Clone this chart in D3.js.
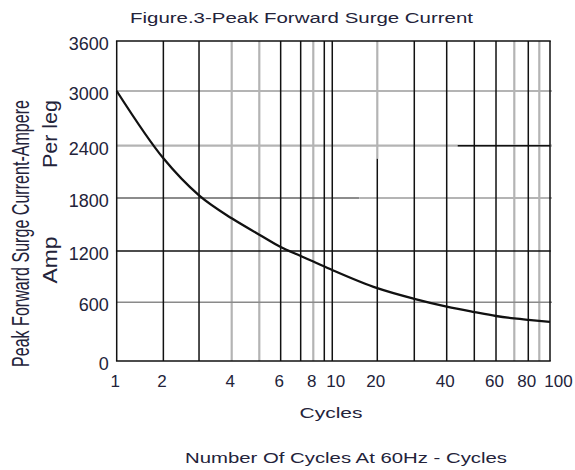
<!DOCTYPE html>
<html>
<head>
<meta charset="utf-8">
<script src="https://cdn.jsdelivr.net/npm/d3@7"></script>
<style>
  body { margin: 0; background: #fff; }
  text { font-family: "Liberation Sans", Arial, sans-serif; fill: #23233a; }
</style>
</head>
<body>
<div id="chart"></div>
<script>
// surge curve
var cycles = [1, 2, 3, 4, 5, 6, 7, 8, 10, 20, 30, 40, 50, 60, 70, 80, 100];
var surgeAmps = [3000, 2255, 1830, 1570, 1385, 1245, 1142, 1077, 978, 765, 640, 555, 500, 460, 435, 420, 400];

var xGridValues = [1, 2, 3, 4, 5, 6, 7, 8, 9, 10, 20, 30, 40, 50, 60, 70, 80, 90, 100];
var xTickValues = [1, 2, 4, 6, 8, 10, 20, 40, 60, 80, 100];
var yTickValues = [0, 600, 1200, 1800, 2400, 3000, 3600];

var grayX = [4, 5, 8, 70, 90];
var grayY = [3000, 600];

// the graph paper is not a true log scale, so the grid is placed as printed
var plotLeft = 116.7, plotRight = 550, plotTop = 41, plotBottom = 361;
var xGridFrac = [0, .1077, .19, .2654, .3291, .3784, .4246, .4537, .4791, .4975,
                 .6014, .6868, .7616, .8253, .8754, .9176, .9499, .9753, 1];
var yGridPos = [361, 302.3, 251, 198, 145.7, 91, 41];

var svg = d3.select("#chart").append("svg")
	.attr("width", 575)
	.attr("height", 470);

var x = d3.scaleLinear()
	.domain(xGridValues)
	.range(xGridFrac.map(function(f){ return plotLeft + f * (plotRight - plotLeft); }));
var y = d3.scaleLinear()
	.domain(yTickValues)
	.range(yGridPos);

var grid = svg.append("g").attr("class", "grid");

// light lines first
grid.selectAll(".vgray")
	.data(grayX)
	.enter().append("line")
	.attr("x1", function(d){ return x(d); })
	.attr("x2", function(d){ return x(d); })
	.attr("y1", plotTop).attr("y2", plotBottom)
	.attr("stroke", "#b4b4b4").attr("stroke-width", 2.2);
grid.append("line")
	.attr("x1", x(20)).attr("x2", x(20))
	.attr("y1", plotTop).attr("y2", y(2250))
	.attr("stroke", "#b4b4b4").attr("stroke-width", 2.2);

grid.selectAll(".hgray")
	.data(grayY)
	.enter().append("line")
	.attr("x1", plotLeft).attr("x2", plotRight + 2)
	.attr("y1", function(d){ return y(d); })
	.attr("y2", function(d){ return y(d); })
	.attr("stroke", function(d){ return d == 600 ? "#8a8a8a" : "#b4b4b4"; })
	.attr("stroke-width", function(d){ return d == 600 ? 1.6 : 2.2; });
grid.append("line")
	.attr("x1", plotLeft).attr("x2", plotRight + 2)
	.attr("y1", y(2400)).attr("y2", y(2400))
	.attr("stroke", "#b4b4b4").attr("stroke-width", 2.2);
grid.append("line")
	.attr("x1", x(44)).attr("x2", plotRight)
	.attr("y1", y(2400)).attr("y2", y(2400))
	.attr("stroke", "#111").attr("stroke-width", 1.4);
grid.append("line")
	.attr("x1", plotLeft).attr("x2", x(16))
	.attr("y1", y(1800)).attr("y2", y(1800))
	.attr("stroke", "#666").attr("stroke-width", 1.4);
grid.append("line")
	.attr("x1", x(16)).attr("x2", plotRight + 2)
	.attr("y1", y(1800)).attr("y2", y(1800))
	.attr("stroke", "#b4b4b4").attr("stroke-width", 2.2);

// dark lines
var blackX = xGridValues.filter(function(d){ return grayX.indexOf(d) < 0 && d != 20; });
grid.selectAll(".vblack")
	.data(blackX)
	.enter().append("line")
	.attr("x1", function(d){ return x(d); })
	.attr("x2", function(d){ return x(d); })
	.attr("y1", plotTop).attr("y2", plotBottom)
	.attr("stroke", "#111").attr("stroke-width", 1.5);
grid.append("line")
	.attr("x1", x(20)).attr("x2", x(20))
	.attr("y1", y(2250)).attr("y2", plotBottom)
	.attr("stroke", "#111").attr("stroke-width", 1.5);
grid.selectAll(".hblack")
	.data([0, 1200, 3600])
	.enter().append("line")
	.attr("x1", plotLeft - 0.75).attr("x2", plotRight + 0.75)
	.attr("y1", function(d){ return y(d); })
	.attr("y2", function(d){ return y(d); })
	.attr("stroke", "#111").attr("stroke-width", 1.5);

// the curve
var line = d3.line()
	.x(function(d){ return x(d[0]); })
	.y(function(d){ return y(d[1]); })
	.curve(d3.curveMonotoneX);
svg.append("path")
	.datum(d3.zip(cycles, surgeAmps))
	.attr("d", line)
	.attr("fill", "none")
	.attr("stroke", "#111")
	.attr("stroke-width", 2.3);

// axes, labels only
var yAxis = svg.append("g")
	.attr("transform", "translate(" + plotLeft + ",0)")
	.call(d3.axisLeft(y).tickValues(yTickValues).tickSize(0).tickPadding(8).tickFormat(d3.format("d")));
yAxis.select(".domain").remove();
yAxis.selectAll("text")
	.attr("dy", "0.47em")
	.style("font-size", "18px")
	.style("font-family", "'Liberation Sans', Arial, sans-serif")
	.attr("fill", "#23233a");

var xNudge = {10: 3, 100: 8};
var xAxis = svg.append("g")
	.attr("transform", "translate(0," + plotBottom + ")")
	.call(d3.axisBottom(x).tickValues(xTickValues).tickSize(0).tickFormat(d3.format("d")));
xAxis.select(".domain").remove();
xAxis.selectAll("text")
	.attr("y", 26)
	.attr("dy", 0)
	.attr("dx", function(d){ return (xNudge[d] || -2); })
	.style("font-size", "17px")
	.style("font-family", "'Liberation Sans', Arial, sans-serif")
	.attr("fill", "#23233a");

svg.append("text")
	.attr("x", 301.5).attr("y", 23)
	.attr("text-anchor", "middle")
	.attr("textLength", 343).attr("lengthAdjust", "spacingAndGlyphs")
	.style("font-size", "15.5px")
	.text("Figure.3-Peak Forward Surge Current");

svg.append("text")
	.attr("x", 331).attr("y", 418)
	.attr("text-anchor", "middle")
	.attr("textLength", 63).attr("lengthAdjust", "spacingAndGlyphs")
	.style("font-size", "15px")
	.text("Cycles");

svg.append("text")
	.attr("x", 346).attr("y", 462.5)
	.attr("text-anchor", "middle")
	.attr("textLength", 322).attr("lengthAdjust", "spacingAndGlyphs")
	.style("font-size", "14.5px")
	.text("Number Of Cycles At 60Hz - Cycles");

// rotated titles are squeezed along the baseline like the scan
svg.append("text")
	.attr("transform", "translate(29,233.5) rotate(-90)")
	.attr("text-anchor", "middle")
	.attr("textLength", 267).attr("lengthAdjust", "spacingAndGlyphs")
	.style("font-size", "23px")
	.text("Peak Forward Surge Current-Ampere");
svg.append("text")
	.attr("transform", "translate(57,134) rotate(-90)")
	.attr("text-anchor", "middle")
	.attr("textLength", 68).attr("lengthAdjust", "spacingAndGlyphs")
	.style("font-size", "21px")
	.text("Per leg");
svg.append("text")
	.attr("transform", "translate(57,260) rotate(-90)")
	.attr("text-anchor", "middle")
	.attr("textLength", 47).attr("lengthAdjust", "spacingAndGlyphs")
	.style("font-size", "20px")
	.text("Amp");
</script>
</body>
</html>
